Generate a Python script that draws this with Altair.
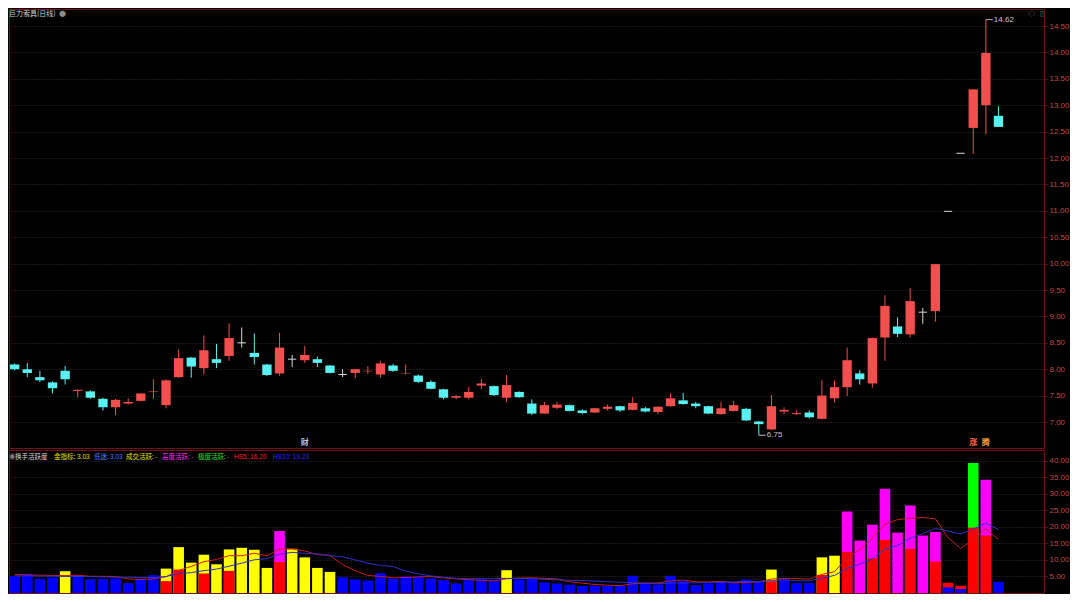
import altair as alt
import pandas as pd

# ---------------- K-line data (巨力索具 日线) ----------------
opens = [8.09, 8.00, 7.85, 7.75, 7.97, 7.59, 7.58, 7.44, 7.28, 7.35,
         7.40, 7.57, 7.32, 7.85, 8.22, 8.02, 8.19, 8.25, 8.50, 8.31,
         8.09, 7.92, 8.19, 8.17, 8.19, 8.07, 7.90, 7.93, 7.96, 7.90,
         8.07, 7.92, 7.88, 7.76, 7.62, 7.46, 7.46, 7.69, 7.68, 7.46,
         7.57, 7.35, 7.16, 7.27, 7.32, 7.22, 7.18, 7.25, 7.30, 7.23,
         7.26, 7.19, 7.30, 7.41, 7.35, 7.30, 7.15, 7.21, 7.25, 7.01,
         6.86, 7.20, 7.15, 7.18, 7.06, 7.45, 7.66, 7.92, 7.73, 8.60,
         8.81, 8.66, 9.08, 9.10, 10.99, 12.09, 12.57, 13.00, 12.80]
closes = [8.00, 7.93, 7.79, 7.64, 7.81, 7.61, 7.46, 7.28, 7.42, 7.38,
          7.54, 7.58, 7.79, 8.21, 8.05, 8.36, 8.12, 8.59, 8.50, 8.23,
          7.89, 8.41, 8.19, 8.27, 8.12, 7.93, 7.90, 8.00, 7.97, 8.11,
          7.97, 7.93, 7.76, 7.63, 7.46, 7.49, 7.57, 7.73, 7.51, 7.70,
          7.47, 7.16, 7.32, 7.33, 7.21, 7.17, 7.26, 7.29, 7.22, 7.36,
          7.20, 7.29, 7.45, 7.34, 7.30, 7.16, 7.26, 7.32, 7.03, 6.96,
          7.30, 7.23, 7.17, 7.09, 7.50, 7.66, 8.17, 7.81, 8.59, 9.20,
          8.67, 9.29, 9.08, 9.99, 10.99, 12.09, 13.30, 13.99, 12.59]
highs = [8.11, 8.12, 7.97, 7.77, 8.06, 7.62, 7.60, 7.46, 7.44, 7.45,
         7.55, 7.81, 7.81, 8.38, 8.23, 8.64, 8.48, 8.87, 8.79, 8.68,
         8.10, 8.69, 8.27, 8.44, 8.24, 8.08, 8.00, 8.00, 8.06, 8.16,
         8.10, 8.09, 7.90, 7.79, 7.63, 7.51, 7.66, 7.81, 7.69, 7.89,
         7.58, 7.43, 7.38, 7.38, 7.33, 7.24, 7.27, 7.33, 7.31, 7.47,
         7.29, 7.30, 7.54, 7.55, 7.38, 7.31, 7.38, 7.40, 7.27, 7.02,
         7.51, 7.28, 7.22, 7.22, 7.79, 7.78, 8.41, 7.98, 8.60, 9.40,
         8.98, 9.54, 9.16, 9.99, 10.99, 12.09, 13.30, 14.62, 12.98]
lows = [7.98, 7.85, 7.76, 7.54, 7.71, 7.47, 7.44, 7.22, 7.13, 7.33,
        7.39, 7.44, 7.26, 7.84, 7.84, 7.90, 8.02, 8.16, 8.41, 8.09,
        7.87, 7.88, 8.04, 8.12, 8.04, 7.92, 7.85, 7.83, 7.91, 7.84,
        7.95, 7.90, 7.74, 7.62, 7.43, 7.43, 7.43, 7.62, 7.49, 7.37,
        7.46, 7.13, 7.16, 7.24, 7.20, 7.15, 7.17, 7.22, 7.19, 7.22,
        7.18, 7.15, 7.29, 7.33, 7.26, 7.15, 7.14, 7.20, 7.02, 6.75,
        6.85, 7.15, 7.13, 7.07, 7.05, 7.37, 7.49, 7.71, 7.65, 8.16,
        8.61, 8.60, 8.86, 8.90, 10.99, 12.09, 12.08, 12.45, 12.59]

# ---------------- 换手活跃度 data ----------------
turnover = [5.1, 5.8, 4.3, 4.7, 6.6, 5.5, 4.2, 4.3, 4.4, 3.0,
            4.4, 5.4, 7.4, 13.9, 9.2, 11.6, 8.7, 13.2, 13.7, 13.1,
            7.6, 18.8, 13.4, 10.8, 7.6, 6.4, 4.8, 4.1, 3.8, 6.0,
            4.4, 5.1, 5.1, 4.4, 3.9, 2.9, 3.9, 4.1, 3.7, 6.9,
            4.1, 4.3, 3.2, 2.9, 2.5, 2.1, 2.2, 2.2, 2.2, 5.2,
            3.1, 2.6, 5.2, 3.6, 2.4, 2.9, 3.4, 3.1, 4.1, 3.5,
            7.1, 4.2, 3.0, 3.0, 10.8, 11.3, 24.7, 15.9, 20.7, 31.6,
            18.3, 26.5, 17.4, 18.5, 1.7, 1.2, 39.4, 34.3, 3.4]
red_part = [0, 0, 0, 0, 0, 0, 0, 0, 0, 0,
            0, 0, 3.6, 7.1, 0, 5.9, 0, 6.7, 0, 0,
            0, 9.4, 0, 0, 0, 0, 0, 0, 0, 0,
            0, 0, 0, 0, 0, 0, 0, 0, 0, 0,
            0, 0, 0, 0, 0, 0, 0, 0, 0, 0,
            0, 0, 0, 0, 0, 0, 0, 0, 0, 0,
            3.6, 0, 0, 0, 5.5, 0, 12.4, 0, 10.5, 16.1,
            0, 13.4, 0, 9.5, 3.1, 2.2, 19.8, 17.4, 0]
# L=低迷 A=成交活跃 H=高度活跃 E=极度活跃
levels = list("LLLLA" "LLLLLLL" "AAAAAAAAA" "H" "AAAA" "LLLLLLLLLLLLL" "A"
              "LLLLLLLLLLLLLLLLLLLL" "A" "LLL" "AA" "HHHHHHHH" "LL" "E" "H" "L")
hs5 = [5.60, 5.50, 5.40, 5.30, 5.30, 5.38, 5.06, 5.06, 5.00, 4.28,
       4.06, 4.30, 4.92, 6.82, 8.06, 9.50, 10.16, 11.32, 11.28, 12.06,
       11.26, 13.28, 13.32, 12.74, 11.64, 11.40, 8.60, 6.74, 5.34, 5.02,
       4.62, 4.68, 4.88, 5.00, 4.58, 4.28, 4.04, 3.84, 3.70, 4.30,
       4.54, 4.62, 4.44, 4.28, 3.40, 3.00, 2.58, 2.38, 2.24, 2.78,
       2.98, 3.06, 3.66, 3.94, 3.38, 3.34, 3.50, 3.08, 3.18, 3.40,
       4.24, 4.40, 4.38, 4.16, 5.62, 6.46, 10.56, 13.14, 16.68, 20.84,
       22.24, 22.60, 22.90, 22.46, 16.76, 13.54, 16.12, 19.50, 16.20]
hs10 = [5.20, 5.20, 5.10, 5.10, 5.00, 5.00, 5.00, 4.90, 4.80, 4.79,
        4.72, 4.68, 4.99, 5.91, 6.17, 6.78, 7.23, 8.12, 9.05, 10.06,
        10.38, 11.72, 12.32, 12.01, 11.85, 11.33, 10.94, 10.03, 9.04, 8.33,
        8.01, 6.64, 5.81, 5.17, 4.80, 4.45, 4.36, 4.36, 4.35, 4.44,
        4.41, 4.33, 4.14, 3.99, 3.85, 3.77, 3.60, 3.41, 3.26, 3.09,
        2.99, 2.82, 3.02, 3.09, 3.08, 3.16, 3.28, 3.37, 3.56, 3.39,
        3.79, 3.95, 3.73, 3.67, 4.51, 5.35, 7.48, 8.76, 10.42, 13.23,
        14.35, 16.58, 18.02, 19.57, 18.80, 17.89, 19.36, 21.20, 19.23]

price_ticks = [7.0, 7.5, 8.0, 8.5, 9.0, 9.5, 10.0, 10.5, 11.0, 11.5,
               12.0, 12.5, 13.0, 13.5, 14.0, 14.5]
turn_ticks = [5, 10, 15, 20, 25, 30, 35, 40]

title_text = "巨力索具(日线)"
legend_names = ["金指标:", "低迷:", "成交活跃: -", "高度活跃: -", "极度活跃: -"]
legend_values = ["3.03", "3.03", "HS5: 16.20", "HS10: 19.23"]
event_idx = [23, 76, 77]
event_txt = ["财", "涨", "腾"]

# ---------------- layout constants ----------------
W = 1035
H_TOP = 439
H_BOT = 143
XDOM = [-0.45, 81.61]
CJK = "Noto Sans CJK SC"
NUM = "Liberation Sans"
AXC = "#6e1414"

n = len(opens)
idx = list(range(n))

kdf = pd.DataFrame({"i": idx, "open": opens, "close": closes, "high": highs, "low": lows})
kdf["dir"] = ["up" if c > o else ("down" if c < o else "flat") for o, c in zip(opens, closes)]

bdf = pd.DataFrame({"i": idx, "main": turnover, "red": red_part, "lvl": levels,
                    "hs5": hs5, "hs10": hs10})
bdf["big"] = bdf[["main", "red"]].max(axis=1)
bdf["small"] = bdf[["main", "red"]].min(axis=1)
bdf["bigc"] = [l if m >= r else "R" for m, r, l in zip(turnover, red_part, levels)]
bdf["smallc"] = ["R" if m >= r else l for m, r, l in zip(turnover, red_part, levels)]

xscale = alt.Scale(domain=XDOM, nice=False, zero=False)
pscale = alt.Scale(domain=[6.508, 14.822], nice=False, zero=False)
tscale = alt.Scale(domain=[0, 43.33], nice=False, zero=False)


def axis_r(vals):
    return alt.Axis(orient="right", values=vals, format=".2f", grid=True,
                    gridColor="#303030", gridDash=[1, 2], gridWidth=1,
                    labelColor="#c04a4a", labelFont=NUM, labelFontSize=8,
                    tickColor=AXC, tickSize=3, domainColor=AXC, labelPadding=2,
                    title=None)


def px_text(t, x, y, color, font, size=7, align="left"):
    return alt.Chart(pd.DataFrame({"t": [t]})).mark_text(
        align=align, baseline="middle", color=color, font=font, fontSize=size
    ).encode(x=alt.value(x), y=alt.value(y), text="t:N")


kcolor = alt.Color("dir:N", legend=None,
                   scale=alt.Scale(domain=["up", "down", "flat"],
                                   range=["#f24f4f", "#58f2f2", "#d8d8d8"]))

base_k = alt.Chart(kdf)
wicks = base_k.mark_rule(strokeWidth=1).encode(
    x=alt.X("i:Q", scale=xscale, axis=None),
    y=alt.Y("low:Q", scale=pscale, axis=axis_r(price_ticks)),
    y2="high:Q",
    color=kcolor,
)
bodies = base_k.transform_calculate(
    xl="datum.i - 0.37", xr="datum.i + 0.37"
).mark_bar().encode(
    x=alt.X("xl:Q", scale=xscale, axis=None),
    x2="xr:Q",
    y=alt.Y("open:Q", scale=pscale, axis=axis_r(price_ticks)),
    y2="close:Q",
    color=kcolor,
)
dojis = base_k.transform_filter("datum.open == datum.close").transform_calculate(
    xl="datum.i - 0.33", xr="datum.i + 0.33"
).mark_rule(strokeWidth=1).encode(
    x=alt.X("xl:Q", scale=xscale, axis=None),
    x2="xr:Q",
    y=alt.Y("close:Q", scale=pscale, axis=axis_r(price_ticks)),
    color=kcolor,
)

hi_i = highs.index(max(highs))
lo_i = lows.index(min(lows))
ext = pd.DataFrame({"i": [hi_i, lo_i], "v": [highs[hi_i], lows[lo_i]],
                    "t": [f"{highs[hi_i]:.2f}", f"{lows[lo_i]:.2f}"]})
ext_lines = alt.Chart(ext).transform_calculate(xr="datum.i + 0.55").mark_rule(
    color="#bbbbbb", strokeWidth=1).encode(
    x=alt.X("i:Q", scale=xscale, axis=None), x2="xr:Q",
    y=alt.Y("v:Q", scale=pscale, axis=axis_r(price_ticks)))
ext_text = alt.Chart(ext).mark_text(align="left", baseline="middle", dx=8,
                                    color="#c8c8c8", font=NUM, fontSize=8).encode(
    x=alt.X("i:Q", scale=xscale, axis=None),
    y=alt.Y("v:Q", scale=pscale, axis=axis_r(price_ticks)),
    text="t:N")

ev_colors = ["#b8c0e8", "#ff6a5a", "#ffa040"]
ev_layers = []
for k in range(len(event_idx)):
    ev_layers.append(
        alt.Chart(pd.DataFrame({"i": [event_idx[k]], "t": [event_txt[k]]})).mark_text(
            baseline="middle", font=CJK, fontSize=8, fontWeight="bold",
            color=ev_colors[k]).encode(
            x=alt.X("i:Q", scale=xscale, axis=None),
            y=alt.value(H_TOP - 5),
            text="t:N"))

title = px_text(title_text, 0, 5, "#d0d0d0", CJK, 7)
title_icon = px_text("●", 50, 5, "#8a8a8a", CJK, 7)
corner1 = px_text("◇", 1019, 5, "#909090", CJK, 7)
corner2 = px_text("▯", 1031, 5, "#909090", CJK, 7)

top = alt.layer(wicks, bodies, dojis, ext_lines, ext_text, *ev_layers,
                title, title_icon, corner1, corner2).properties(width=W, height=H_TOP)

# ---------------- bottom panel ----------------
bcolor_scale = alt.Scale(domain=["L", "A", "H", "E", "R"],
                         range=["#0000ff", "#ffff00", "#ff00ff", "#00ff00", "#ff0000"])
base_b = alt.Chart(bdf).transform_calculate(xl="datum.i - 0.42", xr="datum.i + 0.42")
big_bars = base_b.mark_bar().encode(
    x=alt.X("xl:Q", scale=xscale, axis=None), x2="xr:Q",
    y=alt.Y("big:Q", scale=tscale, axis=axis_r(turn_ticks)),
    y2=alt.datum(0),
    color=alt.Color("bigc:N", scale=bcolor_scale, legend=None))
small_bars = base_b.transform_filter("datum.small > 0").mark_bar().encode(
    x=alt.X("xl:Q", scale=xscale, axis=None), x2="xr:Q",
    y=alt.Y("small:Q", scale=tscale, axis=axis_r(turn_ticks)),
    y2=alt.datum(0),
    color=alt.Color("smallc:N", scale=bcolor_scale, legend=None))
line5 = alt.Chart(bdf).mark_line(color="#c81e1e", strokeWidth=1).encode(
    x=alt.X("i:Q", scale=xscale, axis=None),
    y=alt.Y("hs5:Q", scale=tscale, axis=axis_r(turn_ticks)))
line10 = alt.Chart(bdf).mark_line(color="#3030c8", strokeWidth=1).encode(
    x=alt.X("i:Q", scale=xscale, axis=None),
    y=alt.Y("hs10:Q", scale=tscale, axis=axis_r(turn_ticks)))

hdr_y = 6.5
hdr_layers = [
    px_text("◉", 0, hdr_y, "#808080", CJK, 6.5),
    px_text("换手活跃度", 6, hdr_y, "#d8d8d8", CJK, 6.5),
    px_text(legend_names[0], 45, hdr_y, "#e0e000", CJK, 6.5),
    px_text(legend_values[0], 68, hdr_y, "#e0e000", NUM, 6.5),
    px_text(legend_names[1], 85, hdr_y, "#4a7cff", CJK, 6.5),
    px_text(legend_values[1], 101, hdr_y, "#4a7cff", NUM, 6.5),
    px_text(legend_names[2], 117, hdr_y, "#e8e000", CJK, 6.5),
    px_text(legend_names[3], 153, hdr_y, "#ff30ff", CJK, 6.5),
    px_text(legend_names[4], 189, hdr_y, "#30e030", CJK, 6.5),
    px_text(legend_values[2], 225, hdr_y, "#ff2020", NUM, 6.5),
    px_text(legend_values[3], 264, hdr_y, "#2828ff", NUM, 6.5),
]

bottom = alt.layer(big_bars, small_bars, line5, line10, *hdr_layers).properties(
    width=W, height=H_BOT)

chart = alt.vconcat(top, bottom, spacing=0).resolve_scale(
    color="independent", x="independent"
).properties(
    background="#000000", padding=0
).configure_view(stroke=AXC, strokeWidth=1)

chart.save("out.html", embed_options={"renderer": "svg", "actions": False})
